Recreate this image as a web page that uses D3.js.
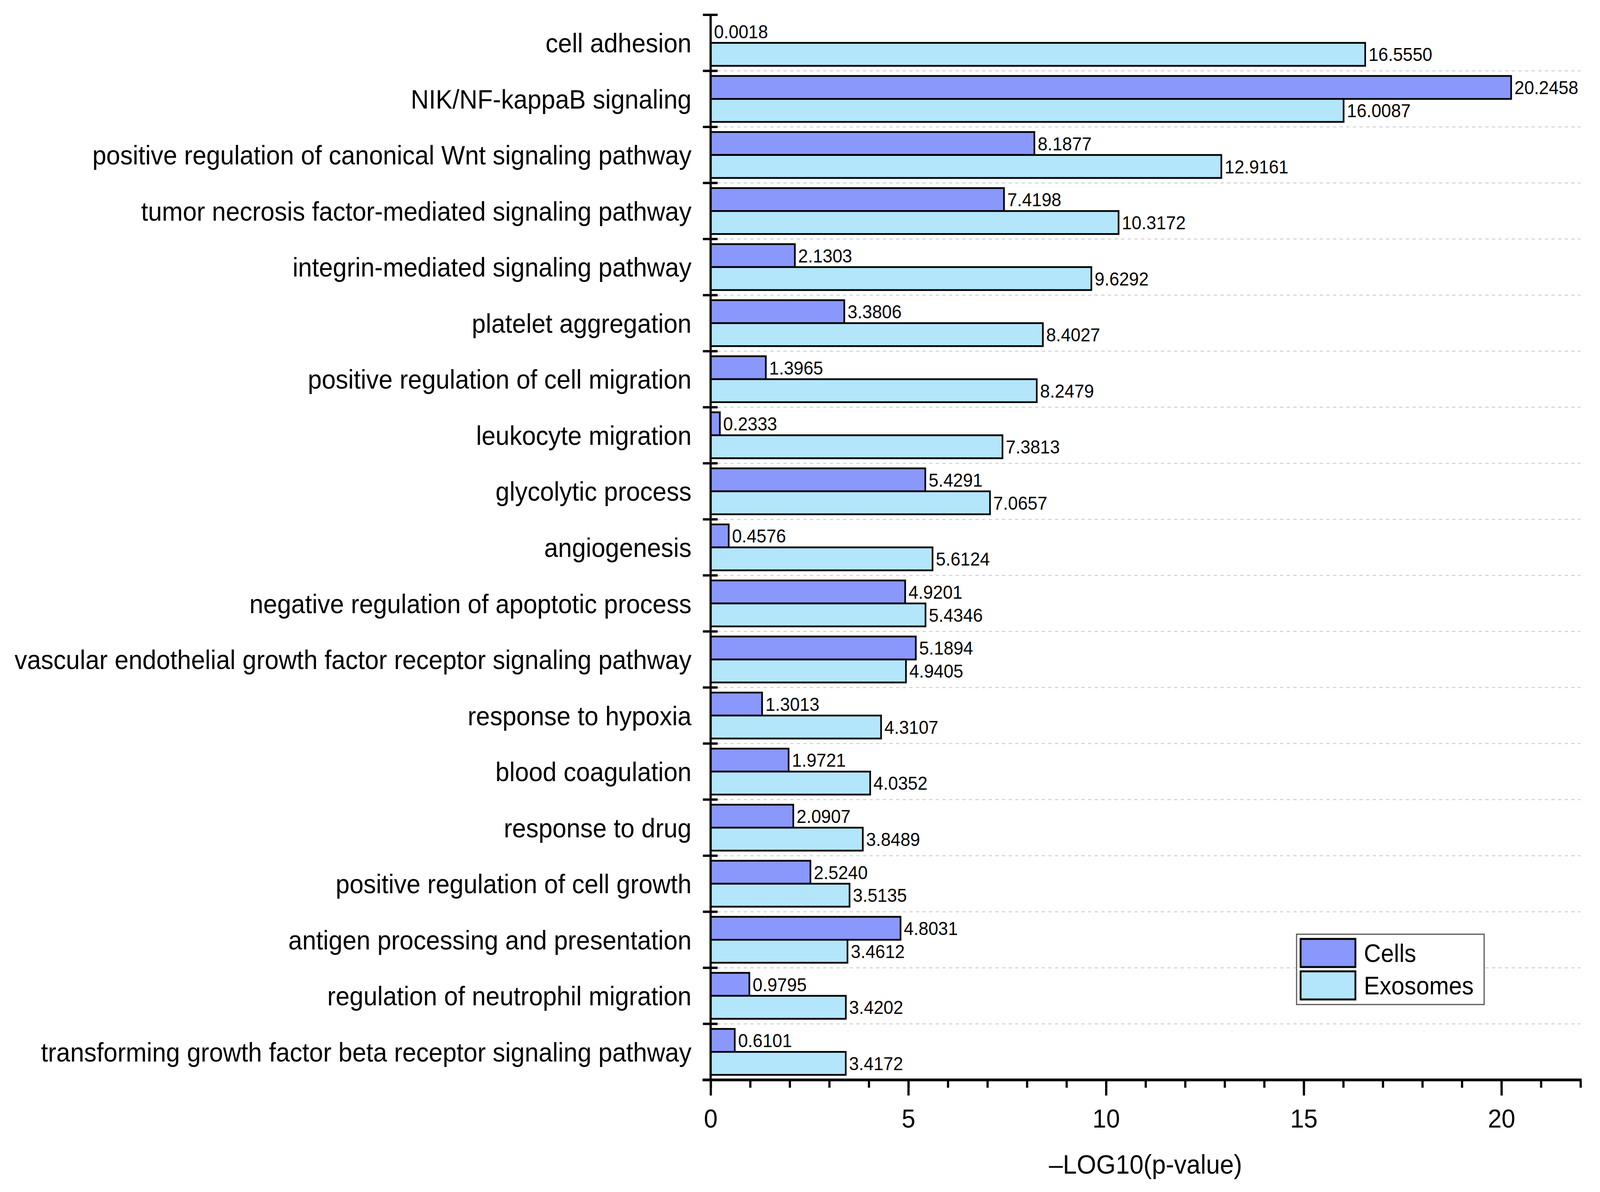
<!DOCTYPE html>
<html>
<head>
<meta charset="utf-8">
<script src="https://cdn.jsdelivr.net/npm/d3@7"></script>
<style>
    html, body { margin: 0; padding: 0; background: #fff; overflow: hidden; }
    #plot svg { display: block; width: 100vw; height: 100vh; }
    svg text { font-family: "Liberation Sans", Arial, sans-serif; fill: #000; }
</style>
</head>
<body>
<div id="plot"></div>
<script>
// GO terms, top to bottom
var categories = [
    "cell adhesion",
    "NIK/NF-kappaB signaling",
    "positive regulation of canonical Wnt signaling pathway",
    "tumor necrosis factor-mediated signaling pathway",
    "integrin-mediated signaling pathway",
    "platelet aggregation",
    "positive regulation of cell migration",
    "leukocyte migration",
    "glycolytic process",
    "angiogenesis",
    "negative regulation of apoptotic process",
    "vascular endothelial growth factor receptor signaling pathway",
    "response to hypoxia",
    "blood coagulation",
    "response to drug",
    "positive regulation of cell growth",
    "antigen processing and presentation",
    "regulation of neutrophil migration",
    "transforming growth factor beta receptor signaling pathway"
];

var cells = [0.0018, 20.2458, 8.1877, 7.4198, 2.1303, 3.3806, 1.3965, 0.2333, 5.4291, 0.4576,
    4.9201, 5.1894, 1.3013, 1.9721, 2.0907, 2.5240, 4.8031, 0.9795, 0.6101];

var exosomes = [16.5550, 16.0087, 12.9161, 10.3172, 9.6292, 8.4027, 8.2479, 7.3813, 7.0657, 5.6124,
    5.4346, 4.9405, 4.3107, 4.0352, 3.8489, 3.5135, 3.4612, 3.4202, 3.4172];

var seriesNames = ["Cells", "Exosomes"];
var seriesColors = ["#8a98fb", "#b3e6fa"];
var xMajorTicks = [0, 5, 10, 15, 20];
var xMinorTicks = d3.range(0, 23);

function draw_chart(){
    var width = 4350,
        height = 3052,
        margin = {left:1932, top:38, right:53, bottom:287};

    // drawn in 4350x3052 units, stretched onto the viewport
    var svg = d3.select("#plot")
        .append("svg")
        .attr("viewBox", "0 0 " + width + " " + height)
        .attr("preserveAspectRatio", "none");

    var rows = categories.map(function(c, i){
        return {cat: c, values: [cells[i], exosomes[i]]};
    });

    // scales
    var xScale = d3.scaleLinear()
        .domain([0, 22])
        .range([margin.left, width - margin.right]);

    var yScale = d3.scaleBand()
        .domain(categories)
        .range([margin.top, height - margin.bottom])
        .padding(0);

    var ySub = d3.scaleBand()
        .domain(seriesNames)
        .range([0, yScale.bandwidth()])
        .paddingInner(0)
        .paddingOuter(0.22);

    var x0 = xScale.range()[0], x1 = xScale.range()[1];
    var yBottom = yScale.range()[1];

    // dashed grid lines at category boundaries
    svg.append("g")
        .selectAll("line")
        .data(categories.slice(1))
        .enter().append("line")
        .attr("x1", x0)
        .attr("x2", x1)
        .attr("y1", function(d){ return yScale(d); })
        .attr("y2", function(d){ return yScale(d); })
        .attr("stroke", "#cfcfcf")
        .attr("stroke-width", 2.5)
        .attr("stroke-dasharray", "9,9");

    // bars
    var groups = svg.append("g")
        .selectAll("g")
        .data(rows)
        .enter().append("g")
        .attr("transform", function(d){ return "translate(0," + yScale(d.cat) + ")"; });

    groups.selectAll("rect")
        .data(function(d){ return d.values.map(function(v, j){ return {v: v, s: seriesNames[j], j: j}; }); })
        .enter().append("rect")
        .attr("x", xScale(0))
        .attr("y", function(d){ return ySub(d.s); })
        .attr("width", function(d){ return xScale(d.v) - xScale(0); })
        .attr("height", ySub.bandwidth())
        .attr("fill", function(d){ return seriesColors[d.j]; })
        .attr("stroke", "#000")
        .attr("stroke-width", 4.5);

    // value labels
    groups.selectAll("text.val")
        .data(function(d){ return d.values.map(function(v, j){ return {v: v, s: seriesNames[j]}; }); })
        .enter().append("text")
        .attr("class", "val")
        .attr("x", function(d){ return xScale(d.v) + 9; })
        .attr("y", function(d){ return ySub(d.s) + ySub.bandwidth() / 2; })
        .attr("dy", "0.36em")
        .attr("font-size", 48)
        .text(function(d){ return d.v.toFixed(4); });

    // y axis: labels at band centers
    var yAxis = d3.axisLeft(yScale)
        .tickSize(0)
        .tickPadding(52);

    var gy = svg.append("g")
        .attr("transform", "translate(" + x0 + ",0)")
        .call(yAxis);
    gy.select(".domain").remove();
    gy.selectAll("text").attr("font-size", 68).attr("dy", "0.36em");

    svg.append("line")
        .attr("x1", x0).attr("x2", x0)
        .attr("y1", margin.top).attr("y2", yBottom)
        .attr("stroke", "#000").attr("stroke-width", 6);

    // y ticks at category boundaries, crossing the axis
    svg.append("g")
        .selectAll("line")
        .data(categories)
        .enter().append("line")
        .attr("x1", x0 - 21)
        .attr("x2", x0 + 19)
        .attr("y1", function(d){ return yScale(d); })
        .attr("y2", function(d){ return yScale(d); })
        .attr("stroke", "#000")
        .attr("stroke-width", 6);

    // x axis
    var xAxisMinor = d3.axisBottom(xScale)
        .tickValues(xMinorTicks)
        .tickSizeInner(20)
        .tickSizeOuter(0)
        .tickFormat("");

    var xAxis = d3.axisBottom(xScale)
        .tickValues(xMajorTicks)
        .tickSizeInner(40)
        .tickSizeOuter(0)
        .tickPadding(34)
        .tickFormat(d3.format("d"));

    var gxm = svg.append("g")
        .attr("transform", "translate(0," + yBottom + ")")
        .call(xAxisMinor);
    gxm.select(".domain").remove();
    gxm.selectAll("line").attr("stroke-width", 6);

    var gx = svg.append("g")
        .attr("transform", "translate(0," + yBottom + ")")
        .call(xAxis);
    gx.select(".domain").remove();
    gx.selectAll("line").attr("stroke-width", 6);
    gx.selectAll("text").attr("font-size", 67);

    svg.append("line")
        .attr("x1", x0 - 22).attr("x2", x1 + 3)
        .attr("y1", yBottom).attr("y2", yBottom)
        .attr("stroke", "#000").attr("stroke-width", 7);

    // axis title
    svg.append("text")
        .attr("x", (x0 + x1) / 2)
        .attr("y", 3005)
        .attr("text-anchor", "middle")
        .attr("font-size", 68)
        .text("\u2013LOG10(p-value)");

    // legend
    var legend = svg.append("g")
        .attr("transform", "translate(3525,2392)");

    legend.append("rect")
        .attr("width", 510)
        .attr("height", 180)
        .attr("fill", "#fff")
        .attr("stroke", "#555")
        .attr("stroke-width", 3);

    var items = legend.selectAll("g")
        .data(seriesNames)
        .enter().append("g")
        .attr("transform", function(d, i){ return "translate(11," + (12 + i * 83) + ")"; });

    items.append("rect")
        .attr("width", 149)
        .attr("height", 72)
        .attr("fill", function(d, i){ return seriesColors[i]; })
        .attr("stroke", "#000")
        .attr("stroke-width", 5);

    items.append("text")
        .attr("x", 172)
        .attr("y", 36)
        .attr("dy", "0.36em")
        .attr("font-size", 64)
        .text(function(d){ return d; });
}

draw_chart();
</script>
</body>
</html>
